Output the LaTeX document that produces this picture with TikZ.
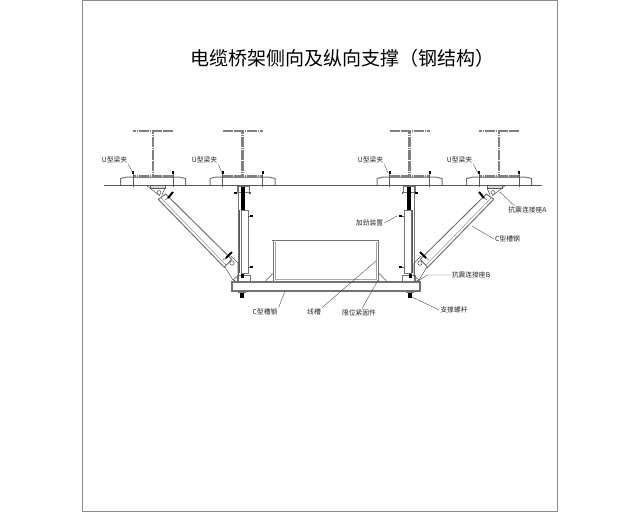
\documentclass[tikz,border=0pt]{standalone}
\usepackage{fontspec}
\usepackage{xcolor}
\setmainfont{Noto Sans CJK SC}
\usetikzlibrary{arrows.meta, positioning}
\tikzset{
  part/.style={draw=black!65, line width=.55pt},
  steel/.style={draw=black!55, line width=1pt},
  ibeam/.style={draw=black!50, line width=2.5pt, dash pattern=on 1.6pt off .25pt},
  boltbody/.style={draw=black, line width=2pt},
  leader/.style={draw=black!70, line width=.4pt},
  tag/.style={font=\fontsize{6.8pt}{7pt}\selectfont, text=black!85, inner sep=1pt},
  beamclamp/.pic={
    \draw[ibeam] (-20,-54) -- (20,-54);
    \draw[ibeam] (0,-54) -- (0,-9);
    \draw[steel, fill=white] (-32.5,0) -- (-32.5,-6.5) -- (-26,-8) -- (26,-8) -- (32.5,-6.5) -- (32.5,0);
    \draw[ibeam] (-20,-8.5) -- (20,-8.5);
    \foreach \bx in {-20,20} {
      \draw[part, line width=.9pt] (\bx,-12) -- (\bx,2);
      \draw[boltbody] (\bx,-14) -- (\bx,-11.5);
    }
  },
  bracing/.pic={
    \draw[steel] (238,187) -- (238,282);
    \draw[steel, fill=white] (241,210) rectangle (248,273);
    \draw[part] (239.5,210) -- (239.5,273);
    \draw[steel] (237,186) rectangle (249,192);
    \draw[boltbody, line width=3.4pt] (243,187) -- (243,210);
    \draw[boltbody] (234,193) -- (237,193);
    \draw[part, line width=1.6pt] (249,193) -- (250.5,193);
    \draw[boltbody] (250,216) -- (253,216);
    \draw[boltbody] (250,267) -- (253,267);
    \draw[part] (248,216) -- (250,216);
    \draw[part] (248,267) -- (250,267);
    \draw[steel] (237,275) rectangle (250,282);
    \draw[boltbody, line width=3pt] (242,274) -- (242,278);
    \draw[steel] (238,292) -- (246,292);
    \draw[boltbody, line width=3.4pt] (242,293) -- (242,298);
    \draw[steel, fill=white] (158.3,199.3) -- (165.7,194) -- (231.7,259.3) -- (224.3,267.3) -- cycle;
    \draw[part, draw=black!40] (160.5,197.5) -- (226.5,265.5);
    \draw[part, fill=black!15] (150,185) rectangle (165,188);
    \draw[part] (146,185) -- (160,196);
    \draw[part] (165,188) -- (162,195);
    \draw[part, fill=white] (159,192.5) circle (2);
    \draw[boltbody] (168,198) -- (173,192);
    \draw[part] (165,200) -- (168,198);
    \draw[boltbody] (226,258) -- (232,252);
    \draw[part] (223,260) -- (226,258);
    \draw[part] (225,267) -- (233,280) -- (238,276) -- (238,263) -- (231,256);
    \draw[part, fill=white] (232,263) circle (2.2);
    \draw[part] (233,280) -- (238,282);
  }
}
\begin{document}
\begin{tikzpicture}[x=1pt, y=-1pt]
  \useasboundingbox (0,0) rectangle (640,512);
  \draw[draw=black!45, line width=1pt] (82,.5) rectangle (557.5,511);
  \node[font=\fontsize{19pt}{20pt}\selectfont, inner sep=0pt] (title) at (342.5,58) {电缆桥架侧向及纵向支撑（钢结构）};
  \foreach \cx in {153,242.5,409.5,499} {
    \pic at (\cx,185) {beamclamp};
  }
  \draw[part] (104,185) -- (542,185);
  \pic at (0,0) {bracing};
  \pic[xscale=-1] at (652,0) {bracing};
  \draw[steel, line width=1.2pt, fill=white] (232,282) rectangle (420,291);
  \draw[steel] (273,240) -- (273,281) -- (378,281) -- (378,240);
  \draw[part, draw=black!35] (275,242) -- (275,279) -- (376,279) -- (376,242);
  \draw[steel] (272,240) -- (379,240);
  \draw[part] (265,282) .. controls (267,278) and (270,278) .. (272,274) -- (273,274);
  \draw[part] (387,282) .. controls (385,278) and (382,278) .. (380,274) -- (378,274);
  \node[tag] (clampa) at (114.5,160) {U型梁夹};
  \node[tag] (clampb) at (204.5,160) {U型梁夹};
  \node[tag] (clampc) at (370.5,160) {U型梁夹};
  \node[tag] (clampd) at (459.5,160) {U型梁夹};
  \node[tag] (seata) at (527.5,210) {抗震连接座A};
  \node[tag] (channelr) at (507.5,239) {C型槽钢};
  \node[tag] (stiff) at (369.5,223) {加劲装置};
  \node[tag] (seatb) at (471,275) {抗震连接座B};
  \node[tag] (rod) at (454,310) {支撑螺杆};
  \node[tag] (fixer) at (359,313) {限位紧固件};
  \node[tag] (tray) at (314,312) {线槽};
  \node[tag] (channelb) at (265,312) {C型槽钢};
  \coordinate (ca) at (133,173);
  \coordinate (cb) at (222,173);
  \coordinate (cc) at (388,173);
  \coordinate (cd) at (478,173);
  \coordinate (sa) at (500,192);
  \coordinate (cr) at (472,226);
  \coordinate (st) at (397,216);
  \coordinate (sbm) at (427,275);
  \coordinate (sb) at (417,282);
  \coordinate (ro) at (412,297);
  \coordinate (fi) at (378,280);
  \coordinate (tr) at (376,261);
  \coordinate (cbt) at (285,291);
  \draw[leader] (clampa.south east) -- (ca);
  \draw[leader] (clampb.south east) -- (cb);
  \draw[leader] (clampc.south east) -- (cc);
  \draw[leader] (clampd.south east) -- (cd);
  \draw[leader] ([xshift=7pt]seata.north west) -- (sa);
  \draw[leader] (channelr.west) -- (cr);
  \draw[leader] (stiff.east) -- (st);
  \draw[leader] (seatb.west) -- (sbm) -- (sb);
  \draw[leader] (rod.west) -- (ro);
  \draw[leader] ([xshift=3pt]fixer.north) -- (fi);
  \draw[leader] (tray.north east) -- (tr);
  \draw[leader] (channelb.north east) -- (cbt);
\end{tikzpicture}
\end{document}
